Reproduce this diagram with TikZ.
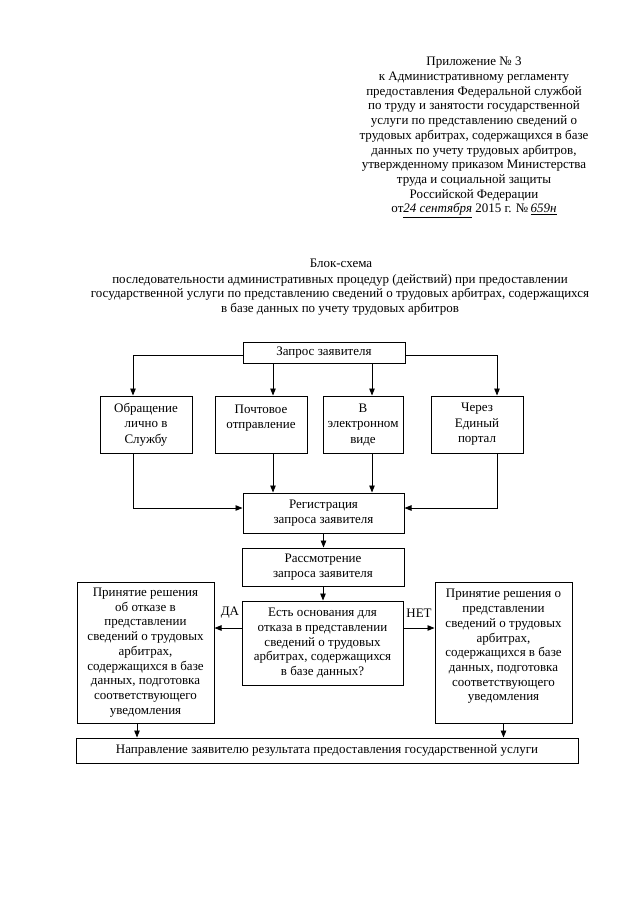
\documentclass[tikz,border=0pt]{standalone}
\usepackage{fontspec}
\setmainfont{Liberation Serif}
\usetikzlibrary{arrows.meta}
\newcommand\myfs{\fontsize{13}{14.7}\selectfont}
\newcommand\myfsb{\fontsize{13}{15.5}\selectfont}
\begin{document}
\begin{tikzpicture}[x=1pt,y=-1pt,
  box/.style={draw, line width=1pt, align=center, inner sep=0pt, font=\myfs},
  boxb/.style={box, font=\myfsb},
  arr/.style={line width=0.9pt, -{Triangle[length=7pt,width=5.5pt]}},
  lbl/.style={font=\myfs, inner sep=0pt}]
\useasboundingbox (0,0) rectangle (640,905);
\fill[white] (0,0) rectangle (640,905);

% header
\node[anchor=north, align=center, font=\myfs, inner sep=0pt] (hdr) at (474,57)
 {Приложение № 3\\к Административному регламенту\\предоставления Федеральной службой\\по труду и занятости государственной\\услуги по представлению сведений о\\трудовых арбитрах, содержащихся в базе\\данных по учету трудовых арбитров,\\утвержденному приказом Министерства\\труда и социальной защиты\\Российской Федерации\\от\underline{\textit{24 сентября}} 2015 г. №\,\underline{\textit{659н}}};

% title
\node[anchor=base, font=\myfs, inner sep=0pt] (t1) at (341,267) {Блок-схема};
\node[anchor=north, align=center, font=\myfs, inner sep=0pt] (t2) at (340,274)
 {последовательности административных процедур (действий) при предоставлении\\государственной услуги по представлению сведений о трудовых арбитрах, содержащихся\\в базе данных по учету трудовых арбитров};

% boxes
\node[box, minimum width=162pt, minimum height=21pt] (zap) at (324,352.5) {Запрос заявителя};
\node[boxb, minimum width=92pt, minimum height=57pt] (b1) at (146,424.5) {Обращение\\лично в\\Службу};
\node[boxb, minimum width=92pt, minimum height=57pt] (b2) at (261,424.5) {Почтовое\\отправление\\~};
\node[boxb, minimum width=80pt, minimum height=57pt] (b3) at (363,424.5) {В\\электронном\\виде};
\node[boxb, minimum width=92pt, minimum height=57pt] (b4) at (477,424.5) {Через\\Единый\\портал};
\node[box, minimum width=161pt, minimum height=40pt] (reg) at (323.5,513) {Регистрация\\запроса заявителя};
\node[box, minimum width=162pt, minimum height=38pt] (ras) at (323,567) {Рассмотрение\\запроса заявителя};
\node[box, minimum width=161pt, minimum height=84pt] (q) at (322.5,643) {Есть основания для\\отказа в представлении\\сведений о трудовых\\арбитрах, содержащихся\\в базе данных?};
\node[box, minimum width=137pt, minimum height=141pt] (lb) at (145.5,652.5) {Принятие решения\\об отказе в\\представлении\\сведений о трудовых\\арбитрах,\\содержащихся в базе\\данных, подготовка\\соответствующего\\уведомления};
\node[box, minimum width=137pt, minimum height=141pt] (rb) at (503.5,652.5) {Принятие решения о\\представлении\\сведений о трудовых\\арбитрах,\\содержащихся в базе\\данных, подготовка\\соответствующего\\уведомления\\~};
\node[box, minimum width=502pt, minimum height=25pt] (nap) at (327,750.5) {Направление заявителю результата предоставления государственной услуги};

\node[lbl] (da) at (230,613) {ДА};
\node[lbl] (net) at (419,613) {НЕТ};

% connectors
\draw[arr] ([yshift=-2.5pt]zap.west) -| ([xshift=-13pt]b1.north);
\draw[arr] ([xshift=-51pt]zap.south) -- ([xshift=-51pt]zap.south |- b2.north);
\draw[arr] ([xshift=48pt]zap.south) -- ([xshift=48pt]zap.south |- b3.north);
\draw[arr] ([yshift=-2.5pt]zap.east) -| ([xshift=20pt]b4.north);
\draw[arr] ([xshift=-13pt]b1.south) |- ([yshift=5pt]reg.west);
\draw[arr] ([xshift=-51pt]zap.south |- b2.south) -- ([xshift=-51pt]zap.south |- reg.north);
\draw[arr] ([xshift=48pt]zap.south |- b3.south) -- ([xshift=48pt]zap.south |- reg.north);
\draw[arr] ([xshift=20pt]b4.south) |- ([yshift=5pt]reg.east);
\draw[arr] (reg.south) -- (reg.south |- ras.north);
\draw[arr] (ras.south) -- (ras.south |- q.north);
\draw[arr] ([yshift=15pt]q.west) -- ([yshift=15pt]q.west -| lb.east);
\draw[arr] ([yshift=15pt]q.east) -- ([yshift=15pt]q.east -| rb.west);
\draw[arr] ([xshift=-8.5pt]lb.south) -- ([xshift=-8.5pt]lb.south |- nap.north);
\draw[arr] (rb.south) -- (rb.south |- nap.north);
\end{tikzpicture}
\end{document}
